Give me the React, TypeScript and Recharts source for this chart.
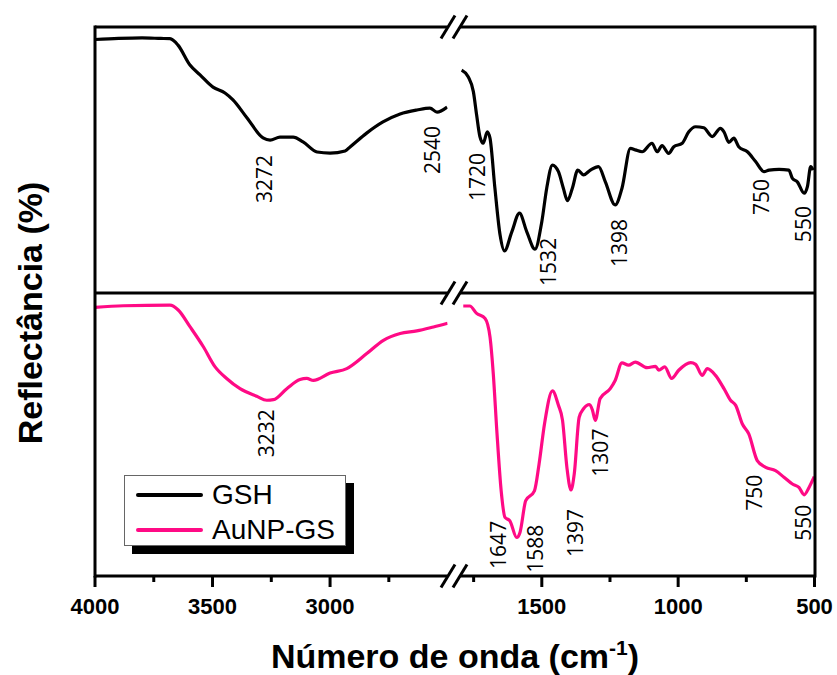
import { LineChart, Line, XAxis, YAxis, ReferenceDot } from 'recharts';

// FTIR spectra, broken wavenumber axis (4000-2500 | 1800-500)
const gshHighWn = [4000, 3900, 3800, 3720, 3681, 3647, 3596, 3553, 3498, 3447, 3413, 3353, 3285, 3255, 3213, 3157, 3115, 3055, 3000, 2936, 2915, 2843, 2775, 2702, 2630, 2575, 2545, 2502];
const gshHighR = [95.3, 95.7, 95.9, 95.7, 95.6, 93.2, 85.7, 82.0, 77.4, 75.2, 72.6, 65.8, 58.3, 57.5, 58.6, 58.6, 56.8, 53.0, 52.6, 53.4, 54.9, 60.2, 64.3, 67.3, 68.8, 69.5, 68.0, 69.9];

const gshLowWn = [1794, 1770, 1751, 1739, 1727, 1715, 1700, 1690, 1672, 1653, 1637, 1610, 1582, 1555, 1525, 1500, 1482, 1461, 1439, 1421, 1406, 1388, 1368, 1347, 1322, 1292, 1267, 1231, 1206, 1175, 1157, 1132, 1096, 1077, 1059, 1035, 1016, 985, 961, 936, 906, 875, 845, 832, 814, 796, 778, 746, 716, 685, 667, 630, 594, 581, 563, 538, 526, 514, 505];
const gshLowR = [83.8, 81.3, 75.7, 66.9, 58.8, 56.3, 60.6, 58.2, 39.4, 21.8, 15.8, 23.0, 30.0, 23.0, 16.5, 26.8, 39.4, 48.1, 45.6, 39.4, 34.7, 39.4, 46.2, 44.4, 46.2, 47.5, 41.8, 33.1, 39.4, 54.4, 53.8, 53.1, 56.3, 53.1, 55.4, 52.5, 55.0, 56.3, 60.6, 62.5, 62.1, 58.8, 61.9, 60.6, 56.6, 58.2, 55.0, 53.1, 49.4, 45.6, 46.2, 46.5, 46.2, 43.1, 41.8, 37.5, 40.0, 47.5, 46.2];

const aunpHighWn = [4000, 3880, 3681, 3646, 3596, 3539, 3489, 3440, 3383, 3312, 3269, 3241, 3184, 3128, 3099, 3071, 3000, 2929, 2844, 2773, 2702, 2631, 2560, 2500];
const aunpHighR = [94.9, 95.5, 95.7, 94.0, 88.1, 81.0, 73.9, 69.8, 66.2, 63.5, 62.1, 62.3, 66.2, 69.4, 69.8, 69.1, 71.7, 73.3, 78.6, 83.3, 85.7, 86.6, 88.0, 89.3];

const aunpLowWn = [1788, 1764, 1739, 1708, 1690, 1678, 1665, 1649, 1635, 1617, 1592, 1580, 1559, 1527, 1510, 1490, 1461, 1439, 1424, 1408, 1393, 1381, 1363, 1347, 1325, 1314, 1304, 1286, 1249, 1231, 1206, 1182, 1157, 1114, 1083, 1071, 1049, 1024, 998, 954, 936, 912, 893, 863, 832, 808, 789, 765, 741, 710, 679, 643, 612, 581, 557, 538, 520, 501];
const aunpLowR = [95.4, 95.4, 92.8, 91.0, 84.5, 71.5, 51.4, 30.1, 20.7, 19.5, 13.6, 15.4, 26.6, 30.1, 39.6, 53.8, 65.4, 60.3, 55.0, 38.4, 30.4, 36.1, 56.1, 59.1, 60.6, 58.5, 55.0, 62.7, 66.2, 69.1, 75.3, 74.5, 75.6, 73.6, 74.1, 72.7, 73.9, 69.8, 72.7, 75.4, 74.8, 70.9, 73.3, 70.9, 66.2, 62.1, 60.3, 53.8, 50.2, 40.8, 38.4, 37.2, 34.9, 32.5, 31.3, 28.7, 31.3, 35.1];

// peak annotations: text, wavenumber, reflectance (label centre)
const gshHighPeaks = [['3272', 3281, 42.9], ['2540', 2566, 53.8]];
const gshLowPeaks = [['1720', 1738, 43.6], ['1532', 1477, 11.7], ['1398', 1216, 18.8], ['750', 697, 36.1], ['550', 543, 25.9]];
const aunpHighPeaks = [['3232', 3272, 50.4]];
const aunpLowPeaks = [['1647', 1660, 11.0], ['1588', 1525, 9.6], ['1397', 1377, 15.2], ['1307', 1285, 43.6], ['750', 722, 29.4], ['550', 543, 18.8]];

const highTicks = [4000, 3750, 3500, 3250, 3000, 2750];
const lowTicks = [1750, 1500, 1250, 1000, 750, 500];
const majorTicks = [4000, 3500, 3000, 1500, 1000, 500];

const seriesNames = ['GSH', 'AuNP-GS'];
const seriesColors = ['#000000', '#ff0a85'];

const toRows = (wn: number[], r: number[]) => wn.map((w, i) => ({ wn: w, r: r[i] }));

const FONT = '"Liberation Sans", Arial, sans-serif';

function AxisTick(props: any) {
  const { x, y, payload } = props;
  const major = majorTicks.includes(payload.value);
  return (
    <g>
      <line x1={x} x2={x} y1={y} y2={y + (major ? 11 : 6)} stroke="#000" strokeWidth={3} />
      {major && (
        <text x={x} y={y + 38} textAnchor="middle" fontFamily={FONT} fontWeight="bold" fontSize={22} fill="#000">
          {payload.value}
        </text>
      )}
    </g>
  );
}

function PeakLabel({ cx, cy, text }: { cx?: number; cy?: number; text: string }) {
  if (cx == null || cy == null) return null;
  return (
    <text
      x={cx}
      y={cy}
      transform={`rotate(-90 ${cx} ${cy})`}
      textAnchor="middle"
      dominantBaseline="central"
      fontFamily='"Open Sans", sans-serif'
      fontSize={21}
      fill="#000"
    >
      {text}
    </text>
  );
}

interface PanelProps {
  left: number;
  top: number;
  width: number;
  height: number;
  xDomain: [number, number];
  data: { wn: number; r: number }[];
  color: string;
  ticks: number[];
  peaks: (string | number)[][];
  showAxis: boolean;
}

function Panel({ left, top, width, height, xDomain, data, color, ticks, peaks, showAxis }: PanelProps) {
  const pad = 12;
  const padX = 40;
  const axisH = showAxis ? 50 : 0;
  return (
    <div style={{ position: 'absolute', left: left - padX, top: top - pad }}>
      <LineChart
        width={width + 2 * padX}
        height={height + 2 * pad + axisH}
        data={data}
        margin={{ top: pad, right: padX, bottom: pad, left: padX }}
      >
        <XAxis
          type="number"
          dataKey="wn"
          domain={xDomain}
          reversed
          allowDataOverflow
          hide={!showAxis}
          ticks={ticks}
          interval={0}
          tickSize={0}
          tickMargin={0}
          tickLine={false}
          tick={<AxisTick />}
          axisLine={{ stroke: '#000', strokeWidth: 3 }}
          height={axisH}
        />
        <YAxis type="number" domain={[0, 100]} hide allowDataOverflow />
        <Line
          type="monotone"
          dataKey="r"
          stroke={color}
          strokeWidth={3.2}
          dot={false}
          activeDot={false}
          isAnimationActive={false}
        />
        {peaks.map((p) => (
          <ReferenceDot
            key={String(p[0]) + p[1]}
            x={p[1] as number}
            y={p[2] as number}
            r={0}
            shape={(s: any) => <PeakLabel cx={s.cx} cy={s.cy} text={String(p[0])} />}
          />
        ))}
      </LineChart>
    </div>
  );
}

function Slashes({ cy }: { cy: number }) {
  return (
    <g stroke="#000" strokeWidth={3}>
      <line x1={441} y1={cy + 11.5} x2={455} y2={cy - 11.5} />
      <line x1={453} y1={cy + 11.5} x2={467} y2={cy - 11.5} />
    </g>
  );
}

export default function App() {
  const L = 95;
  const LR = 447.6;
  const R0 = 460;
  const R1 = 814.5;
  const T = 27;
  const M = 293;
  const B = 576;
  return (
    <div style={{ position: 'absolute', left: 0, top: 0, width: 837, height: 675, overflow: 'hidden', background: '#fff', fontFamily: FONT }}>
      <Panel left={L} top={T} width={LR - L} height={M - T} xDomain={[2500, 4000]} data={toRows(gshHighWn, gshHighR)} color={seriesColors[0]} ticks={highTicks} peaks={gshHighPeaks} showAxis={false} />
      <Panel left={R0} top={T} width={R1 - R0} height={M - T} xDomain={[500, 1800]} data={toRows(gshLowWn, gshLowR)} color={seriesColors[0]} ticks={lowTicks} peaks={gshLowPeaks} showAxis={false} />
      <Panel left={L} top={M} width={LR - L} height={B - M} xDomain={[2500, 4000]} data={toRows(aunpHighWn, aunpHighR)} color={seriesColors[1]} ticks={highTicks} peaks={aunpHighPeaks} showAxis />
      <Panel left={R0} top={M} width={R1 - R0} height={B - M} xDomain={[500, 1800]} data={toRows(aunpLowWn, aunpLowR)} color={seriesColors[1]} ticks={lowTicks} peaks={aunpLowPeaks} showAxis />

      <svg width={837} height={675} style={{ position: 'absolute', left: 0, top: 0, pointerEvents: 'none' }}>
        <g stroke="#000" strokeWidth={3}>
          <line x1={L} y1={T - 1.5} x2={L} y2={B + 1.5} />
          <line x1={R1 + 0.5} y1={T - 1.5} x2={R1 + 0.5} y2={B + 1.5} />
          <line x1={L} y1={T} x2={LR} y2={T} />
          <line x1={R0} y1={T} x2={R1} y2={T} />
          <line x1={L} y1={M} x2={LR} y2={M} />
          <line x1={R0} y1={M} x2={R1} y2={M} />
        </g>
        <Slashes cy={T} />
        <Slashes cy={M} />
        <Slashes cy={B} />
        <text
          x={30}
          y={313}
          transform="rotate(-90 30 313)"
          textAnchor="middle"
          dominantBaseline="central"
          fontFamily={FONT}
          fontWeight="bold"
          fontSize={34}
          fill="#000"
        >
          Reflectância (%)
        </text>
        <text x={455} y={668} textAnchor="middle" fontFamily={FONT} fontWeight="bold" fontSize={34} fill="#000">
          Número de onda (cm<tspan dy={-13} fontSize={21}>-1</tspan><tspan dy={13}>)</tspan>
        </text>
      </svg>

      <div
        style={{
          position: 'absolute',
          left: 124,
          top: 475,
          width: 220,
          height: 69,
          border: '1px solid #666',
          background: '#fff',
          boxShadow: '8px 8px 0 #000',
        }}
      >
        {seriesNames.map((name, i) => (
          <div key={name} style={{ position: 'absolute', left: 11, top: 3 + i * 35, height: 32, display: 'flex', alignItems: 'center' }}>
            <div style={{ width: 67, height: 4, background: seriesColors[i], borderRadius: 2 }} />
            <span style={{ marginLeft: 9, fontSize: 28, fontFamily: FONT, color: '#000', lineHeight: '32px' }}>{name}</span>
          </div>
        ))}
      </div>
    </div>
  );
}
